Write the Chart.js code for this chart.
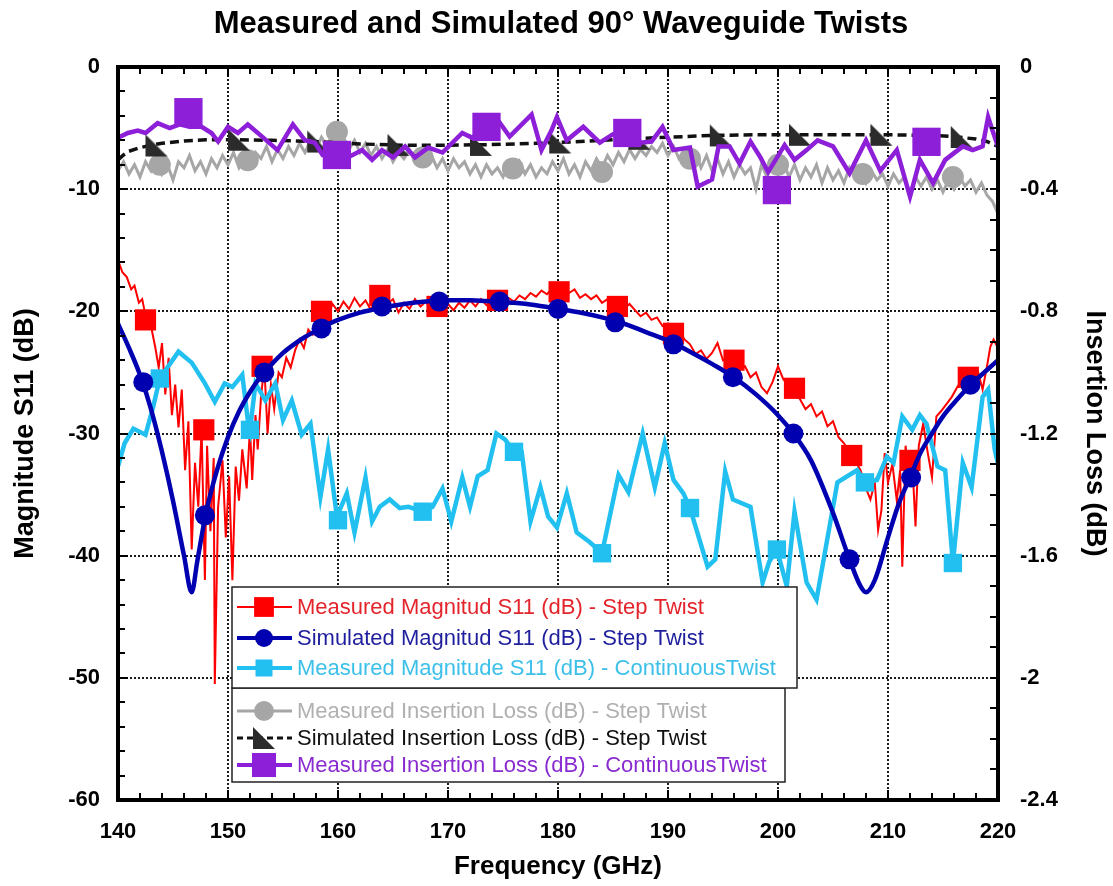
<!DOCTYPE html>
<html>
<head>
<meta charset="utf-8">
<script src="https://cdn.jsdelivr.net/npm/chart.js@4.4.1/dist/chart.umd.min.js"></script>
<style>
  body { margin: 0; background: #fff; }
  #wrap { width: 1113px; height: 886px; }
</style>
</head>
<body>
<div id="wrap"><canvas id="chart" width="1113" height="886"></canvas></div>
<script>
// ---- data ----
// frequency in GHz, S11 in dB (left axis), insertion loss in dB (right axis)

// Measured Magnitud S11 - Step Twist (red, noisy trace)
var redFreq = [
  140.0,140.4,140.8,141.2,141.5,141.9,142.2,142.6,143.0,143.4,
  143.7,144.0,144.3,144.6,144.9,145.2,145.5,145.8,146.1,146.4,
  146.7,147.0,147.3,147.6,147.9,148.1,148.4,148.7,148.8,149.1,
  149.5,149.8,150.1,150.4,150.7,151.0,151.3,151.7,152.0,152.2,
  152.5,152.7,153.0,153.3,153.6,153.9,154.2,154.6,154.9,155.3,
  155.7,156.1,156.5,156.9,157.3,157.7,158.1,158.5,159.0,159.5,
  160.0,160.5,161.0,161.5,162.0,162.5,163.0,163.5,164.0,164.5,
  165.0,165.5,166.0,166.5,167.0,167.5,168.0,168.5,169.0,169.5,
  170.0,170.5,171.0,171.5,172.0,172.5,173.0,173.5,174.0,174.5,
  175.0,175.5,176.0,176.5,177.0,177.5,178.0,178.5,179.0,179.5,
  180.0,180.5,181.0,181.5,182.0,182.5,183.0,183.5,184.0,184.5,
  185.0,185.5,186.0,186.5,187.0,187.5,188.0,188.5,189.0,189.5,
  190.0,190.5,191.0,191.5,192.0,192.5,193.0,193.5,194.0,194.5,
  195.0,195.5,196.0,196.5,197.0,197.5,198.0,198.5,199.0,199.5,
  200.0,200.5,201.0,201.5,202.0,202.5,203.0,203.5,204.0,204.5,
  205.0,205.5,206.0,206.5,207.0,207.5,
  208.0,208.4,208.8,209.1,209.4,209.7,210.0,210.4,210.8,211.1,
  211.3,211.6,211.9,212.2,212.5,212.8,213.2,213.6,214.0,214.4,
  214.8,215.4,215.8,216.3,216.8,217.3,217.8,218.2,218.6,219.0,
  219.3,219.6,220.0
];
var redMag = [
  -15.8,-16.8,-17.2,-18.2,-17.9,-19.3,-19.0,-20.8,-21.2,-23.0,
  -24.6,-22.6,-26.8,-23.8,-28.5,-26.0,-29.5,-26.4,-33.0,-29.0,
  -39.5,-32.4,-36.0,-29.7,-42.0,-31.0,-38.0,-32.0,-50.5,-36.0,
  -32.2,-38.5,-33.5,-42.0,-32.7,-35.5,-31.3,-34.5,-29.5,-33.8,
  -28.5,-31.3,-27.0,-24.5,-30.0,-26.0,-28.0,-25.0,-25.4,-23.8,
  -24.6,-23.2,-22.3,-23.0,-21.5,-21.9,-20.6,-20.2,-20.5,-19.4,
  -20.0,-19.2,-19.8,-18.9,-19.6,-19.1,-19.9,-18.7,-18.5,-19.4,
  -19.0,-20.1,-19.3,-19.8,-19.0,-19.6,-19.2,-20.0,-19.5,-20.2,
  -19.4,-19.9,-19.3,-19.7,-19.1,-19.6,-19.0,-19.5,-19.2,-19.0,
  -19.3,-18.9,-19.2,-18.7,-19.0,-18.5,-18.8,-18.3,-18.6,-18.1,
  -18.4,-18.0,-18.5,-18.2,-18.9,-18.6,-19.0,-18.7,-19.3,-19.0,
  -19.6,-19.2,-19.8,-19.4,-19.9,-20.4,-20.1,-20.7,-20.5,-21.2,
  -21.0,-21.8,-21.5,-22.3,-22.7,-23.5,-23.2,-23.9,-23.4,-22.6,
  -24.0,-23.6,-24.3,-24.8,-24.5,-25.4,-25.0,-26.2,-26.7,-25.8,
  -24.5,-25.6,-26.0,-26.5,-27.2,-28.0,-27.6,-28.6,-28.2,-29.4,
  -29.0,-30.3,-30.8,-31.5,-32.2,-33.0,
  -34.5,-35.4,-34.0,-37.9,-36.3,-31.6,-34.0,-32.5,-35.5,-33.0,
  -40.9,-31.0,-33.5,-32.2,-37.6,-31.0,-29.2,-31.5,-33.6,-28.6,
  -28.2,-27.5,-27.0,-26.2,-25.5,-25.3,-25.8,-25.0,-26.4,-24.5,
  -22.9,-22.3,-23.0
];
var redMarkFreq = [142.5,147.8,153.1,158.5,163.8,169.0,174.5,180.1,185.4,190.5,196.0,201.5,206.7,212.0,217.3];
var redMarkMag  = [-20.7,-29.7,-24.5,-20.0,-18.7,-19.6,-19.1,-18.4,-19.6,-21.8,-24.0,-26.3,-31.8,-32.2,-25.4];

// Simulated Magnitud S11 - Step Twist (navy)
var navyFreq = [
  140,141,142,143,144,145,146,146.7,147.2,148,
  149,150,151,152,153,154,155,156,157,158,
  159,160,162,164,166,168,170,172,174,176,
  178,180,182,184,186,188,190,192,194,196,
  198,200,201.4,203,205,206.5,207.5,208,208.8,210,
  211,212,213,214,215,216,217,218,219,220
];
var navyMag = [
  -21,-23,-25.2,-28,-31.5,-35.5,-40,-43,-40.5,-36.5,
  -33,-30.3,-28.2,-26.6,-25.3,-24.3,-23.4,-22.7,-22.1,-21.6,
  -21.1,-20.7,-20.1,-19.7,-19.4,-19.2,-19.1,-19.1,-19.2,-19.3,
  -19.5,-19.8,-20.1,-20.5,-21.0,-21.7,-22.4,-23.3,-24.3,-25.4,
  -26.8,-28.5,-30,-32.2,-36.5,-40.3,-42.5,-43,-42,-38.5,
  -35.7,-33.6,-31.5,-30,-28.6,-27.5,-26.5,-25.6,-24.8,-24
];
var navyMarkFreq = [142.3,147.9,153.3,158.5,164.0,169.2,174.7,180.0,185.2,190.5,195.9,201.4,206.5,212.1,217.5];
var navyMarkMag  = [-25.8,-36.7,-25.0,-21.4,-19.6,-19.2,-19.2,-19.8,-20.9,-22.7,-25.4,-30.0,-40.3,-33.6,-26.0];

// Measured Magnitude S11 - Continuous Twist (light blue)
var cyanFreq = [
  140.0,140.6,141.4,142.5,143.2,143.8,145.5,146.7,147.9,148.8,
  149.7,150.4,151.3,151.8,152.0,152.5,153.4,154.3,155.0,155.8,
  156.7,157.5,158.4,159.1,159.9,160.8,161.5,162.5,163.1,163.8,
  164.7,165.6,166.4,167.7,168.6,169.5,170.3,171.3,172.0,172.7,
  173.6,174.4,175.2,176.0,176.7,177.5,178.4,179.1,179.9,180.8,
  181.7,182.9,184.0,185.5,186.4,187.7,188.8,189.7,190.5,191.4,
  192.0,193.6,194.3,195.2,195.9,197.5,198.6,199.2,199.9,200.8,
  201.5,202.6,203.5,205.4,206.3,207.2,207.9,209.0,209.9,210.5,
  211.3,212.2,212.9,213.5,214.5,215.2,215.9,216.8,217.6,218.6,
  219.1,219.7,220.0
];
var cyanMag = [
  -32.7,-30.8,-29.6,-30.1,-27.8,-25.5,-23.3,-24.2,-25.9,-27.4,
  -25.9,-26.2,-25.2,-28.9,-29.7,-25.9,-27.3,-25.9,-28.9,-27.3,
  -30.1,-29.2,-35.2,-31.3,-36.8,-34.9,-38.1,-33.6,-37.2,-36.0,
  -35.4,-36.1,-36.0,-36.4,-36.0,-34.5,-37.2,-33.6,-36.0,-33.5,
  -33.0,-30.0,-30.5,-31.5,-31.5,-37.2,-34.4,-36.8,-37.7,-34.9,
  -38.1,-38.9,-39.8,-33.4,-34.8,-30.0,-34.4,-30.8,-33.8,-34.9,
  -36.1,-40.9,-40.3,-33.1,-35.4,-36.0,-42.2,-40.5,-39.5,-42.5,
  -36.4,-42.2,-43.6,-34.0,-33.5,-33.0,-34.0,-33.8,-31.9,-32.4,
  -28.6,-29.7,-28.5,-29.2,-32.7,-33.0,-40.6,-32.4,-34.4,-27.0,
  -26.4,-31.3,-32.5
];
var cyanMarkFreq = [143.8,152.0,160.0,167.7,176.0,184.0,192.0,199.9,207.9,215.9];
var cyanMarkMag  = [-25.5,-29.7,-37.1,-36.4,-31.5,-39.8,-36.1,-39.5,-34.0,-40.6];

// Measured Insertion Loss - Step Twist (grey), sampled every 0.5 GHz from 140 GHz
var grayStart = 140, grayStep = 0.5;
var grayIL = [
  -0.34,-0.31,-0.35,-0.32,-0.36,-0.31,-0.34,-0.30,-0.35,-0.32,
  -0.37,-0.31,-0.33,-0.29,-0.34,-0.31,-0.35,-0.30,-0.33,-0.29,
  -0.32,-0.28,-0.33,-0.30,-0.32,-0.28,-0.30,-0.26,-0.31,-0.27,
  -0.30,-0.26,-0.29,-0.25,-0.28,-0.24,-0.27,-0.23,-0.26,-0.22,
  -0.25,-0.23,-0.27,-0.24,-0.28,-0.25,-0.29,-0.26,-0.30,-0.27,
  -0.31,-0.28,-0.30,-0.27,-0.31,-0.28,-0.32,-0.29,-0.33,-0.30,
  -0.34,-0.30,-0.33,-0.31,-0.35,-0.32,-0.36,-0.32,-0.35,-0.33,
  -0.36,-0.32,-0.35,-0.31,-0.35,-0.32,-0.36,-0.33,-0.35,-0.31,
  -0.34,-0.30,-0.35,-0.32,-0.36,-0.31,-0.34,-0.30,-0.33,-0.29,
  -0.32,-0.28,-0.31,-0.27,-0.30,-0.27,-0.29,-0.26,-0.28,-0.25,
  -0.29,-0.26,-0.30,-0.27,-0.31,-0.28,-0.33,-0.29,-0.34,-0.30,
  -0.35,-0.31,-0.36,-0.32,-0.35,-0.33,-0.40,-0.32,-0.36,-0.31,
  -0.35,-0.31,-0.36,-0.32,-0.37,-0.33,-0.36,-0.32,-0.38,-0.33,
  -0.37,-0.34,-0.38,-0.33,-0.36,-0.34,-0.38,-0.34,-0.37,-0.35,
  -0.39,-0.35,-0.38,-0.36,-0.42,-0.36,-0.39,-0.36,-0.40,-0.37,
  -0.41,-0.37,-0.40,-0.36,-0.39,-0.37,-0.41,-0.38,-0.42,-0.44,
  -0.48
];
var grayMarkFreq = [143.8,151.8,159.9,167.7,175.9,184.0,192.0,200.0,207.7,215.9];
var grayMarkIL   = [-0.32,-0.305,-0.212,-0.296,-0.332,-0.344,-0.30,-0.32,-0.35,-0.36];

// Simulated Insertion Loss - Step Twist (black dashed)
var simILFreq = [140,140.5,141,142,143,144,146,148,150,154,158,162,166,170,174,178,182,186,190,194,198,202,206,210,214,216,218,219,220];
var simIL = [-0.304,-0.288,-0.276,-0.264,-0.256,-0.25,-0.242,-0.238,-0.238,-0.24,-0.244,-0.252,-0.256,-0.256,-0.254,-0.25,-0.244,-0.236,-0.23,-0.224,-0.222,-0.222,-0.222,-0.222,-0.224,-0.228,-0.236,-0.244,-0.26];
var simMarkFreq = [143.5,151.0,158.2,165.5,173.0,180.2,187.4,194.8,202.0,209.4,216.7];
var simMarkIL   = [-0.257,-0.238,-0.244,-0.255,-0.255,-0.247,-0.235,-0.224,-0.222,-0.222,-0.229];

// Measured Insertion Loss - Continuous Twist (purple)
var purpleFreq = [
  140,140.9,141.8,142.5,143.6,144.7,145.6,146.5,147.6,148.5,
  149.1,150.0,150.9,151.8,153.1,154.5,155.9,157.0,157.9,158.6,
  159.9,160.9,162.2,163.1,164.0,165.0,166.1,167.0,168.2,169.5,
  171.3,172.2,173.5,174.5,175.6,177.6,178.5,179.4,179.9,180.8,
  182.3,183.8,185.0,186.3,187.5,188.5,189.5,190.5,192.0,192.7,
  194.0,194.6,195.6,196.5,197.5,198.4,199.1,200.6,201.5,202.6,
  203.6,205.0,206.5,208.0,209.3,210.8,212.0,212.9,214.1,215.2,
  216.8,217.7,218.6,219.1,219.5,220.0
];
var purpleIL = [
  -0.232,-0.216,-0.208,-0.216,-0.184,-0.2,-0.188,-0.196,-0.196,-0.216,
  -0.244,-0.196,-0.216,-0.188,-0.228,-0.272,-0.188,-0.24,-0.248,-0.288,
  -0.288,-0.296,-0.272,-0.304,-0.272,-0.296,-0.26,-0.296,-0.264,-0.28,
  -0.216,-0.232,-0.196,-0.172,-0.228,-0.156,-0.272,-0.208,-0.164,-0.24,
  -0.196,-0.248,-0.22,-0.224,-0.248,-0.244,-0.196,-0.272,-0.264,-0.392,
  -0.368,-0.26,-0.26,-0.316,-0.244,-0.296,-0.344,-0.256,-0.304,-0.272,
  -0.24,-0.26,-0.348,-0.24,-0.34,-0.272,-0.424,-0.304,-0.38,-0.304,
  -0.26,-0.272,-0.26,-0.164,-0.208,-0.26
];
var purpleMarkFreq = [146.4,159.9,173.5,186.3,199.9,213.5];
var purpleMarkIL   = [-0.148,-0.288,-0.196,-0.216,-0.403,-0.245];

var legendLabels = [
  'Measured Magnitud S11 (dB) - Step Twist',
  'Simulated Magnitud S11 (dB) - Step Twist',
  'Measured Magnitude S11 (dB) - ContinuousTwist',
  'Measured Insertion Loss (dB) - Step Twist',
  'Simulated Insertion Loss (dB) - Step Twist',
  'Measured Insertion Loss (dB) - ContinuousTwist'
];

// ---- helpers ----
function pts(xs, ys) {
  return xs.map(function(x, i) { return {x: x, y: ys[i]}; });
}
var grayFreq = grayIL.map(function(v, i) { return grayStart + i * grayStep; });

// right-angled triangle marker for the simulated insertion loss
var tri = document.createElement('canvas');
tri.width = 24; tri.height = 24;
var tctx = tri.getContext('2d');
tctx.fillStyle = '#2b2b2b';
tctx.beginPath();
tctx.moveTo(1, 1); tctx.lineTo(1, 23); tctx.lineTo(23, 23); tctx.closePath();
tctx.fill();

var FONT = "'Liberation Sans', Arial, sans-serif";

function lineSet(label, data, color, width, axis, order, dash) {
  return {
    label: label, data: data, yAxisID: axis, order: order,
    borderColor: color, backgroundColor: color, borderWidth: width,
    borderDash: dash || [], pointRadius: 0, pointHoverRadius: 0,
    tension: 0, fill: false
  };
}
function markSet(label, data, color, style, r, axis, order) {
  return {
    label: label, data: data, yAxisID: axis, order: order,
    showLine: false, pointStyle: style, pointRadius: r, pointHoverRadius: r,
    backgroundColor: color, borderColor: color, borderWidth: 0
  };
}

var navyLine = lineSet(legendLabels[1], pts(navyFreq, navyMag), '#0000b0', 4.5, 'y', 2);
navyLine.cubicInterpolationMode = 'monotone';

var datasets = [
  navyLine,
  markSet(legendLabels[1], pts(navyMarkFreq, navyMarkMag), '#0000b0', 'circle', 10, 'y', 1),
  lineSet(legendLabels[2], pts(cyanFreq, cyanMag), '#22c0f0', 4.5, 'y', 4),
  markSet(legendLabels[2], pts(cyanMarkFreq, cyanMarkMag), '#22c0f0', 'rect', 13, 'y', 3),
  lineSet(legendLabels[0], pts(redFreq, redMag), '#ff0000', 2, 'y', 6),
  markSet(legendLabels[0], pts(redMarkFreq, redMarkMag), '#ff0000', 'rect', 15, 'y', 5),
  lineSet(legendLabels[5], pts(purpleFreq, purpleIL), '#8e1fd8', 4.5, 'y2', 8),
  markSet(legendLabels[5], pts(purpleMarkFreq, purpleMarkIL), '#8e1fd8', 'rect', 20, 'y2', 7),
  lineSet(legendLabels[4], pts(simILFreq, simIL), '#111111', 3.5, 'y2', 10, [9, 5]),
  markSet(legendLabels[4], pts(simMarkFreq, simMarkIL), '#2b2b2b', tri, 12, 'y2', 9),
  lineSet(legendLabels[3], pts(grayFreq, grayIL), '#a6a6a6', 3, 'y2', 12),
  markSet(legendLabels[3], pts(grayMarkFreq, grayMarkIL), '#a6a6a6', 'circle', 11, 'y2', 11)
];

// legend rows: text colour, line style, marker
var legendRows = [
  {text: legendLabels[0], color: '#e3242b', line: '#ff0000', lw: 2, mark: 'rect', r: 14, fill: '#ff0000'},
  {text: legendLabels[1], color: '#1f1f9e', line: '#0000b0', lw: 4, mark: 'circle', r: 9, fill: '#0000b0'},
  {text: legendLabels[2], color: '#3cc0ea', line: '#22c0f0', lw: 4, mark: 'rect', r: 12, fill: '#22c0f0'},
  {text: legendLabels[3], color: '#b0b0b0', line: '#a6a6a6', lw: 3, mark: 'circle', r: 10, fill: '#a6a6a6'},
  {text: legendLabels[4], color: '#111111', line: '#111111', lw: 3, dash: [6, 4], mark: 'tri', r: 12, fill: '#2b2b2b'},
  {text: legendLabels[5], color: '#8a2bd0', line: '#8e1fd8', lw: 4, mark: 'rect', r: 17, fill: '#8e1fd8'}
];

// dotted grid at the major ticks
var gridPlugin = {
  id: 'gridPlugin',
  beforeDatasetsDraw: function(chart) {
    var ctx = chart.ctx, a = chart.chartArea, xs = chart.scales.x, ys = chart.scales.y;
    ctx.save();
    ctx.strokeStyle = '#1a1a1a';
    ctx.lineWidth = 2;
    ctx.setLineDash([2, 2]);
    xs.ticks.forEach(function(t) {
      if (t.value % 10 === 0 && t.value > xs.min && t.value < xs.max) {
        var px = Math.round(xs.getPixelForValue(t.value));
        ctx.beginPath(); ctx.moveTo(px, a.top); ctx.lineTo(px, a.bottom); ctx.stroke();
      }
    });
    ys.ticks.forEach(function(t) {
      if (t.value % 10 === 0 && t.value > ys.min && t.value < ys.max) {
        var py = Math.round(ys.getPixelForValue(t.value));
        ctx.beginPath(); ctx.moveTo(a.left, py); ctx.lineTo(a.right, py); ctx.stroke();
      }
    });
    ctx.restore();
  }
};

// inward tick marks, frame, legend boxes, title
var framePlugin = {
  id: 'framePlugin',
  afterDatasetsDraw: function(chart) {
    var ctx = chart.ctx, a = chart.chartArea;
    var xs = chart.scales.x, ys = chart.scales.y, y2 = chart.scales.y2;
    ctx.save();
    ctx.strokeStyle = '#000';
    ctx.lineWidth = 2;
    xs.ticks.forEach(function(t) {
      var px = Math.round(xs.getPixelForValue(t.value));
      var len = t.value % 10 === 0 ? 10 : 7;
      ctx.beginPath();
      ctx.moveTo(px, a.bottom); ctx.lineTo(px, a.bottom - len);
      ctx.moveTo(px, a.top); ctx.lineTo(px, a.top + len);
      ctx.stroke();
    });
    ys.ticks.forEach(function(t) {
      var py = Math.round(ys.getPixelForValue(t.value));
      var len = t.value % 10 === 0 ? 10 : 7;
      ctx.beginPath(); ctx.moveTo(a.left, py); ctx.lineTo(a.left + len, py); ctx.stroke();
    });
    y2.ticks.forEach(function(t) {
      var py = Math.round(y2.getPixelForValue(t.value));
      ctx.beginPath(); ctx.moveTo(a.right, py); ctx.lineTo(a.right - 8, py); ctx.stroke();
    });
    ctx.lineWidth = 4;
    ctx.strokeRect(a.left, a.top, a.right - a.left, a.bottom - a.top);

    // legend: two stacked boxes
    var boxes = [
      {x: 232, y: 688, w: 553, h: 94, rows: [3, 4, 5], ys: [711, 738, 765]},
      {x: 232, y: 587, w: 565, h: 101, rows: [0, 1, 2], ys: [607, 638, 668]}
    ];
    boxes.forEach(function(b) {
      ctx.fillStyle = '#fff';
      ctx.fillRect(b.x, b.y, b.w, b.h);
      ctx.strokeStyle = '#222';
      ctx.lineWidth = 1.5;
      ctx.setLineDash([]);
      ctx.strokeRect(b.x, b.y, b.w, b.h);
      b.rows.forEach(function(ri, k) {
        var r = legendRows[ri], cy = b.ys[k];
        ctx.strokeStyle = r.line;
        ctx.lineWidth = r.lw;
        ctx.setLineDash(r.dash || []);
        ctx.beginPath(); ctx.moveTo(237, cy); ctx.lineTo(292, cy); ctx.stroke();
        ctx.setLineDash([]);
        ctx.fillStyle = r.fill;
        var mx = 264;
        if (r.mark === 'rect') {
          var s = r.r * Math.SQRT1_2;
          ctx.fillRect(mx - s, cy - s, 2 * s, 2 * s);
        } else if (r.mark === 'circle') {
          ctx.beginPath(); ctx.arc(mx, cy, r.r, 0, Math.PI * 2); ctx.fill();
        } else {
          ctx.drawImage(tri, mx - 12, cy - 12);
        }
        ctx.fillStyle = r.color;
        ctx.font = '22px ' + FONT;
        ctx.textAlign = 'left';
        ctx.textBaseline = 'middle';
        ctx.fillText(r.text, 297, cy + 1);
      });
    });
    ctx.restore();
  },
  afterDraw: function(chart) {
    var ctx = chart.ctx;
    ctx.save();
    ctx.fillStyle = '#000';
    ctx.font = 'bold 31px ' + FONT;
    ctx.textAlign = 'center';
    ctx.textBaseline = 'middle';
    ctx.fillText('Measured and Simulated 90\u00b0 Waveguide Twists', 561, 24);
    ctx.restore();
  }
};

var tickFont = {family: FONT, size: 22, weight: 'bold'};
var xTitleFont = {family: FONT, size: 26, weight: 'bold'};
var yTitleFont = {family: FONT, size: 27, weight: 'bold'};

new Chart(document.getElementById('chart'), {
  type: 'line',
  data: {datasets: datasets},
  options: {
    responsive: false,
    animation: false,
    devicePixelRatio: 1,
    layout: {padding: {top: 67, left: 0, right: 0, bottom: 0}},
    plugins: {legend: {display: false}, tooltip: {enabled: false}, title: {display: false}},
    scales: {
      x: {
        type: 'linear', position: 'bottom', min: 140, max: 220,
        grid: {display: false, drawTicks: false}, border: {display: false},
        ticks: {
          stepSize: 2, autoSkip: false, maxRotation: 0, minRotation: 0,
          color: '#000', font: tickFont, padding: 19,
          callback: function(v) { return v % 10 === 0 ? String(v) : ''; }
        },
        title: {display: true, text: 'Frequency (GHz)', color: '#000', font: xTitleFont, padding: {top: 0, bottom: 4}},
        afterFit: function(s) { s.height = 86; }
      },
      y: {
        type: 'linear', position: 'left', min: -60, max: 0,
        grid: {display: false, drawTicks: false}, border: {display: false},
        ticks: {
          stepSize: 2, autoSkip: false, color: '#000', font: tickFont, padding: 18,
          callback: function(v) { return v % 10 === 0 ? String(v) : ''; }
        },
        title: {display: true, text: 'Magnitude S11 (dB)', color: '#000', font: yTitleFont, padding: {top: 9, bottom: 0}},
        afterFit: function(s) { s.width = 118; }
      },
      y2: {
        type: 'linear', position: 'right', min: -2.4, max: 0,
        grid: {display: false, drawTicks: false}, border: {display: false},
        ticks: {
          stepSize: 0.1, autoSkip: false, color: '#000', font: tickFont, padding: 22,
          callback: function(v) {
            var k = Math.round(v / 0.4);
            return Math.abs(k * 0.4 - v) < 1e-6 ? String(Math.round(v * 10) / 10) : '';
          }
        },
        title: {display: true, text: 'Insertion Loss (dB)', color: '#000', font: yTitleFont, padding: {top: 2, bottom: 0}},
        afterFit: function(s) { s.width = 115; }
      }
    }
  },
  plugins: [gridPlugin, framePlugin]
});
</script>
</body>
</html>
